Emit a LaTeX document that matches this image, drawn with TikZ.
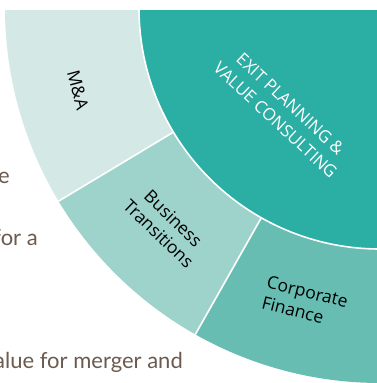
\documentclass[tikz,border=0pt]{standalone}
\usepackage{fontspec}
\setmainfont{Open Sans}
\newfontfamily\bodyfont{Lato}
\usepackage{xcolor}
\definecolor{Col1}{RGB}{43,174,163}
\definecolor{Col2}{RGB}{212,232,229}
\definecolor{Col3}{RGB}{158,211,204}
\definecolor{Col4}{RGB}{104,189,178}
\definecolor{Col5}{RGB}{107,90,80}
\usepackage{tikz}
\tikzstyle{Label}=[font=\fontsize{17.5}{21}\selectfont,text=black,
inner sep=0pt]
\tikzstyle{Core}=[font=\fontsize{17}{22}\selectfont,text=white,
align=center,inner sep=0pt]
\tikzstyle{Body}=[font=\bodyfont\fontsize{22}{26}\selectfont,text=Col5,
inner sep=0pt,anchor=base east]
\tikzstyle{Cut}=[draw=white,line width=1.6pt]
\newcommand{\Sector}[3]{\fill[#1](#2:241)--(#2:375)
    arc[start angle=#2,end angle=#3,radius=375]--(#3:241)
    arc[start angle=#3,end angle=#2,radius=241]--cycle;}

\begin{document}
\begin{tikzpicture}[x=1pt,y=1pt]
        \useasboundingbox(-380,-375)rectangle(-3,8);
        \clip(-380,-375)rectangle(-3,8);
        \coordinate(c)at(0,0);
        \begin{scope}
        \clip(-380,-375)rectangle(-3,-2);
        \Sector{Col2}{170}{211}
        \Sector{Col3}{211}{240.5}
        \Sector{Col4}{240.5}{280}
        \fill[Col1](c)circle(241);
        \draw[Cut](c)circle(241);
        \draw[Cut](211:241)--(211:375);
        \draw[Cut](240.5:241)--(240.5:375);
        \end{scope}
        \node[Core,rotate=-43](exit)at(-97,-104)
            {EXIT PLANNING \&\\VALUE CONSULTING};
        \node[Label,rotate=-75](ma)at(-302,-82){M\&A};
        \node[Label,rotate=-44,align=center](bt)at(-214,-218)
            {Business\\Transitions};
        \node[Label,rotate=-14,align=left](cf)at(-75,-294)
            {Corporate\\Finance};
        \node[Body](t1)at(-370,-175){e};
        \node[Body](t2)at(-342,-237){for a};
        \node[Body](t3)at(-197,-360){alue for merger and};
    \end{tikzpicture}
\end{document}
